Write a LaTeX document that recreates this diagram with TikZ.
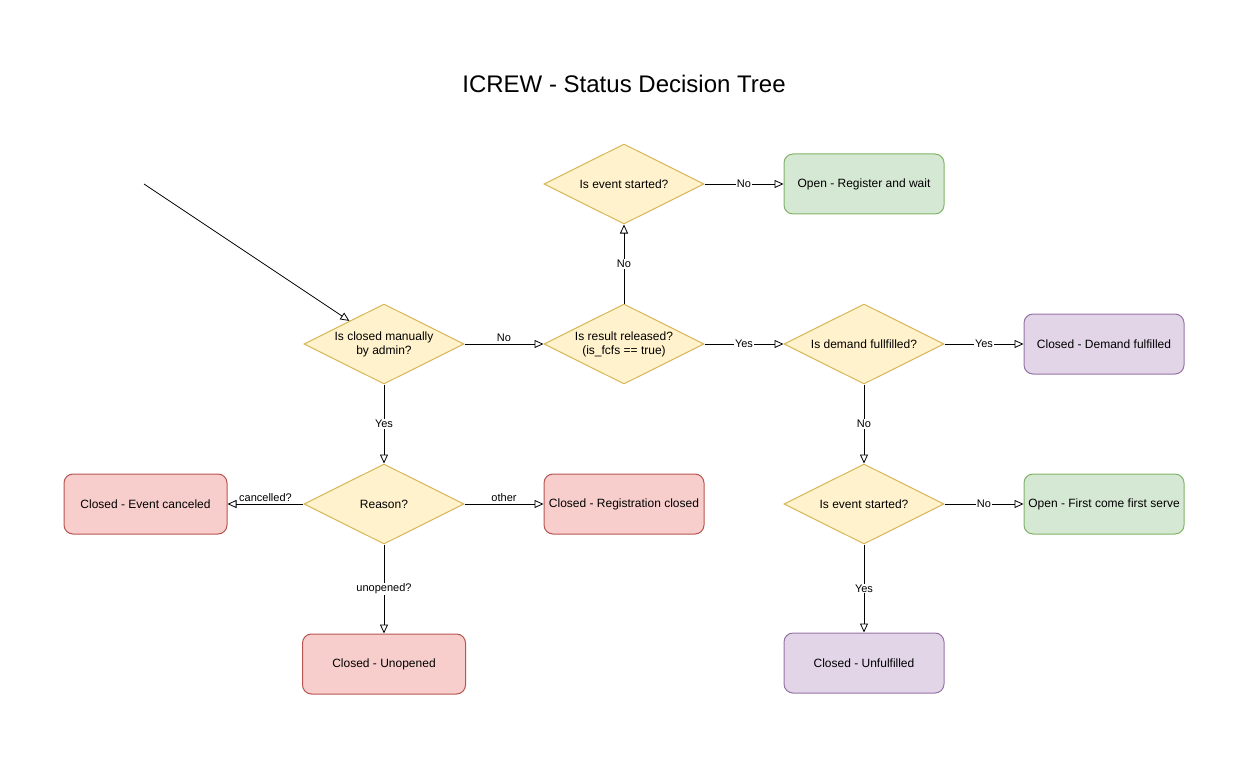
\documentclass[tikz,border=0pt]{standalone}
\usepackage{fontspec}
\setmainfont{Liberation Sans}
\usetikzlibrary{shapes.geometric,arrows.meta}
\definecolor{decfill}{HTML}{FFF2CC}
\definecolor{decline}{HTML}{D6B656}
\definecolor{grnfill}{HTML}{D5E8D4}
\definecolor{grnline}{HTML}{82B366}
\definecolor{redfill}{HTML}{F8CECC}
\definecolor{redline}{HTML}{B85450}
\definecolor{purfill}{HTML}{E1D5E7}
\definecolor{purline}{HTML}{9673A6}
\tikzset{
  decision/.style={diamond, aspect=2, draw=decline, fill=decfill, line width=1pt,
    minimum width=160pt, minimum height=80pt, inner sep=0pt, align=center,
    font=\fontsize{12}{14}\selectfont},
  statebox/.style={rectangle, rounded corners=9pt, line width=1pt,
    minimum height=60pt, inner sep=0pt, align=center,
    font=\fontsize{12}{14}\selectfont},
  greenbox/.style={statebox, draw=grnline, fill=grnfill, minimum width=160pt},
  redbox/.style={statebox, draw=redline, fill=redfill, minimum width=160pt},
  purplebox/.style={statebox, draw=purline, fill=purfill, minimum width=160pt},
  arr/.style={-{Triangle[open, length=9pt, width=8pt]}, line width=0.8pt, black},
  onlbl/.style={fill=white, inner sep=1pt, font=\fontsize{11}{13}\selectfont},
  uplbl/.style={above, inner sep=1.5pt, font=\fontsize{11}{13}\selectfont},
}
\begin{document}
\begin{tikzpicture}[x=1pt, y=-1pt]
\useasboundingbox (0,0) rectangle (1249,759);
\node[font=\fontsize{24}{28}\selectfont] (title) at (624,84) {ICREW - Status Decision Tree};

\node[decision] (d1) at (384,344) {Is closed manually\\by admin?};
\node[decision] (d2) at (624,344) {Is result released?\\(is\_fcfs == true)};
\node[decision] (d3) at (624,184) {Is event started?};
\node[greenbox] (r1) at (864,184) {Open - Register and wait};
\node[decision] (d4) at (864,344) {Is demand fullfilled?};
\node[purplebox] (r2) at (1104,344) {Closed - Demand fulfilled};
\node[decision] (d5) at (384,504) {Reason?};
\node[redbox, minimum width=163pt] (r3) at (145.5,504) {Closed - Event canceled};
\node[redbox] (r4) at (624,504) {Closed - Registration closed};
\node[redbox, minimum width=163pt] (r5) at (384,664) {Closed - Unopened};
\node[decision] (d6) at (864,504) {Is event started?};
\node[greenbox] (r6) at (1104,504) {Open - First come first serve};
\node[purplebox] (r7) at (864,663) {Closed - Unfulfilled};

\coordinate (start) at (144,184);
\draw[arr] (start) -- (d1);
\draw[arr] (d1) -- node[uplbl] {No} (d2);
\draw[arr] (d2) -- node[onlbl] {No} (d3);
\draw[arr] (d3) -- node[onlbl] {No} (r1);
\draw[arr] (d2) -- node[onlbl] {Yes} (d4);
\draw[arr] (d4) -- node[onlbl] {Yes} (r2);
\draw[arr] (d4) -- node[onlbl] {No} (d6);
\draw[arr] (d1) -- node[onlbl] {Yes} (d5);
\draw[arr] (d5) -- node[uplbl] {cancelled?} (r3);
\draw[arr] (d5) -- node[uplbl] {other} (r4);
\draw[arr] (d5) -- node[onlbl] {unopened?} (r5);
\draw[arr] (d6) -- node[onlbl] {No} (r6);
\draw[arr] (d6) -- node[onlbl] {Yes} (r7);
\end{tikzpicture}
\end{document}
